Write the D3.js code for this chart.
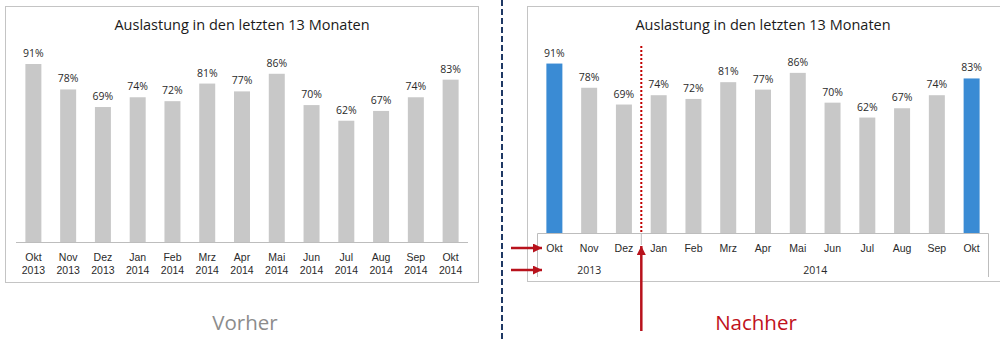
<!DOCTYPE html>
<html>
<head>
<meta charset="utf-8">
<script src="https://cdn.jsdelivr.net/npm/d3@7"></script>
<style>
  html, body { margin: 0; padding: 0; background: #fff; }
  svg { display: block; font-family: "Open Sans", "Noto Sans", sans-serif; }
</style>
</head>
<body>
<svg id="chart" width="1000" height="339"></svg>
<script>
// Auslastung je Monat, Okt 2013 bis Okt 2014
const months = ["Okt", "Nov", "Dez", "Jan", "Feb", "Mrz", "Apr", "Mai", "Jun", "Jul", "Aug", "Sep", "Okt"];
const years = ["2013", "2013", "2013", "2014", "2014", "2014", "2014", "2014", "2014", "2014", "2014", "2014", "2014"];
const values = [91, 78, 69, 74, 72, 81, 77, 86, 70, 62, 67, 74, 83];
const yearGroups = ["2013", "2014"];
const title = "Auslastung in den letzten 13 Monaten";

const svg = d3.select("#chart");
const idx = d3.range(values.length);
const GREY = "#c8c8c8", BLUE = "#3a8bd4", RED = "#b8121c", TXT = "#2a2a2a";
const fmt = v => v + "%";
const LBL = 10.5;

svg.append("defs").append("marker")
  .attr("id", "arrow").attr("viewBox", "0 0 10 10")
  .attr("refX", 10).attr("refY", 5)
  .attr("markerWidth", 10).attr("markerHeight", 9)
  .attr("markerUnits", "userSpaceOnUse")
  .attr("orient", "auto")
  .append("path").attr("d", "M0,0L10,5L0,10Z").attr("fill", RED);

// ---------- left panel: "Vorher" ----------
{
  const g = svg.append("g");
  g.append("rect").attr("x", 5.5).attr("y", 6.5).attr("width", 473).attr("height", 276)
    .attr("fill", "#fff").attr("stroke", "#c4c4c4");
  g.append("text").attr("x", 242).attr("y", 30).attr("text-anchor", "middle")
    .attr("font-size", 14.5).attr("fill", "#1a1a1a").text(title);

  const x = d3.scaleBand().domain(idx).range([16, 468]).paddingInner(0.54).paddingOuter(0.27);
  const y = d3.scaleLinear().domain([0, 100]).range([242, 46.4]);

  g.selectAll("rect.bar").data(idx).join("rect").attr("class", "bar")
    .attr("x", i => x(i)).attr("width", x.bandwidth())
    .attr("y", i => y(values[i])).attr("height", i => y(0) - y(values[i]))
    .attr("fill", GREY);

  g.selectAll("text.val").data(idx).join("text").attr("class", "val")
    .attr("x", i => x(i) + x.bandwidth() / 2).attr("y", i => y(values[i]) - 7)
    .attr("text-anchor", "middle").attr("font-size", LBL).attr("fill", TXT)
    .text(i => fmt(values[i]));

  const ax = g.append("g").attr("transform", `translate(0,${y(0)})`)
    .call(d3.axisBottom(x).tickSize(0).tickPadding(0).tickFormat(i => months[i]));
  ax.select(".domain").attr("stroke", "#bdbdbd").attr("d", "M16,0.5H468");
  ax.selectAll(".tick text").attr("font-size", LBL).attr("fill", TXT).attr("dy", null).attr("y", 19)
    .each(function (i) {
      d3.select(this).append("tspan").attr("x", 0).attr("y", 32).text(years[i]);
    });

  g.append("text").attr("x", 245).attr("y", 330).attr("text-anchor", "middle")
    .attr("font-size", 20.5).attr("fill", "#8c8c8c").text("Vorher");
}

// divider
svg.append("line").attr("x1", 502).attr("x2", 502).attr("y1", 0).attr("y2", 339)
  .attr("stroke", "#1f3864").attr("stroke-width", 2).attr("stroke-dasharray", "6,3");

// ---------- right panel: "Nachher" ----------
{
  const g = svg.append("g");
  g.append("rect").attr("x", 527.5).attr("y", 6.5).attr("width", 480).attr("height", 275)
    .attr("fill", "#fff").attr("stroke", "#c4c4c4");
  g.append("text").attr("x", 763).attr("y", 30).attr("text-anchor", "middle")
    .attr("font-size", 14.5).attr("fill", "#1a1a1a").text(title);

  const x = d3.scaleBand().domain(idx).range([537, 989]).paddingInner(0.54).paddingOuter(0.27);
  const y = d3.scaleLinear().domain([0, 100]).range([233, 46.8]);
  const last = values.length - 1;

  g.selectAll("rect.bar").data(idx).join("rect").attr("class", "bar")
    .attr("x", i => x(i)).attr("width", x.bandwidth())
    .attr("y", i => y(values[i])).attr("height", i => y(0) - y(values[i]))
    .attr("fill", i => (i === 0 || i === last) ? BLUE : GREY);

  g.selectAll("text.val").data(idx).join("text").attr("class", "val")
    .attr("x", i => x(i) + x.bandwidth() / 2).attr("y", i => y(values[i]) - 7)
    .attr("text-anchor", "middle").attr("font-size", LBL).attr("fill", TXT)
    .text(i => fmt(values[i]));

  // axis box with month row and year row
  const box = g.append("g").attr("fill", "none").attr("stroke", "#bdbdbd");
  box.append("path").attr("d", `M537.5,277V${y(0) + 0.5}H988.5V277`);
  const split = (x(2) + x.bandwidth() + x(3)) / 2;
  box.append("line").attr("x1", split).attr("x2", split).attr("y1", y(0)).attr("y2", 245);

  const ax = g.append("g").attr("transform", `translate(0,${y(0)})`)
    .call(d3.axisBottom(x).tickSize(0).tickPadding(0).tickFormat(i => months[i]));
  ax.select(".domain").remove();
  ax.selectAll(".tick text").attr("font-size", LBL).attr("fill", TXT).attr("dy", null).attr("y", 19);

  g.selectAll("text.year").data(yearGroups).join("text").attr("class", "year")
    .attr("x", yr => {
      const members = idx.filter(i => years[i] === yr);
      return (x(members[0]) + x(members[members.length - 1]) + x.bandwidth()) / 2;
    })
    .attr("y", 274).attr("text-anchor", "middle").attr("font-size", LBL).attr("fill", TXT)
    .text(yr => yr);

  // year boundary marker
  g.append("line").attr("x1", split).attr("x2", split).attr("y1", 46).attr("y2", y(0))
    .attr("stroke", "#c00000").attr("stroke-width", 2).attr("stroke-dasharray", "2,2");
  g.append("line").attr("x1", split).attr("x2", split).attr("y1", 331).attr("y2", 246)
    .attr("stroke", RED).attr("stroke-width", 2.5).attr("marker-end", "url(#arrow)");

  // arrows pointing at the two label rows
  [248, 270].forEach(yy => {
    g.append("line").attr("x1", 511).attr("x2", 542).attr("y1", yy).attr("y2", yy)
      .attr("stroke", RED).attr("stroke-width", 2.5).attr("marker-end", "url(#arrow)");
  });

  g.append("text").attr("x", 756).attr("y", 330).attr("text-anchor", "middle")
    .attr("font-size", 20.5).attr("fill", "#c0111b").text("Nachher");
}
</script>
</body>
</html>
